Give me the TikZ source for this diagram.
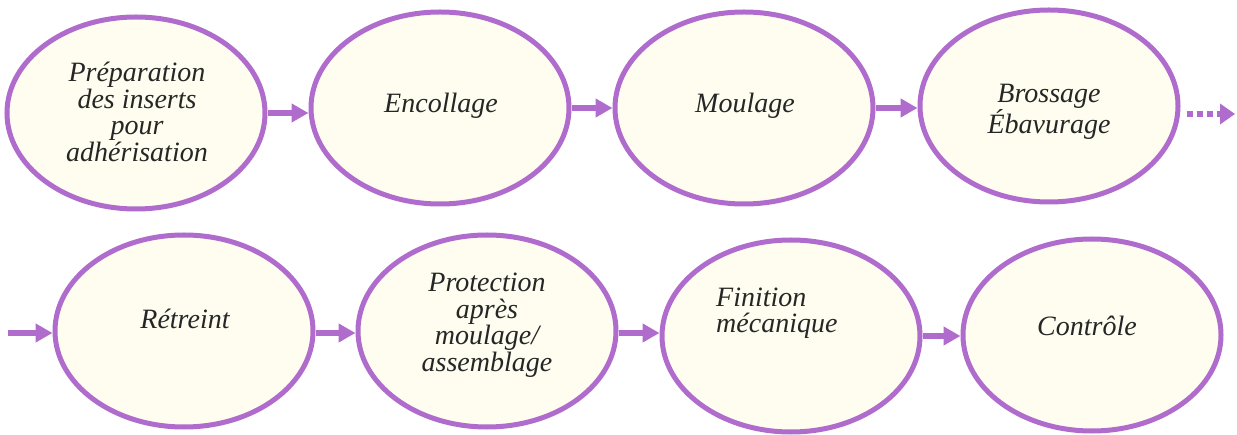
\documentclass[tikz,border=0pt]{standalone}
\usepackage{fontspec}
\setmainfont{Liberation Serif}
\newfontfamily\stepfont{Liberation Serif Italic}
\usetikzlibrary{arrows.meta,shapes.geometric,calc}
\definecolor{lilac}{RGB}{176,108,204}
\definecolor{cream}{RGB}{254,253,240}
\tikzset{
  stepoval/.style={ellipse, draw=lilac, fill=cream, line width=5pt,
    minimum width=258pt, minimum height=192pt, inner sep=0pt},
  steptext/.style={align=center, inner sep=0pt,
    font=\stepfont\fontsize{28}{26.5}\selectfont, text=black!85},
  flow/.style={draw=lilac, line width=6pt,
    -{Triangle[length=17pt,width=18pt]}},
  dotflow/.style={draw=lilac, line width=6pt, dash pattern=on 6pt off 4pt,
    -{Triangle[length=15pt,width=20pt]}}
}
\begin{document}
\begin{tikzpicture}[x=1pt,y=-1pt]
\useasboundingbox[fill=white] (0,0) rectangle (1237,435);
% top row
\node[stepoval] (e1) at (136,113) {};
\node[stepoval] (e2) at (440,108) {};
\node[stepoval] (e3) at (744,108) {};
\node[stepoval] (e4) at (1049,106) {};
% bottom row
\node[stepoval] (e5) at (184,331) {};
\node[stepoval] (e6) at (487,331) {};
\node[stepoval] (e7) at (791,336) {};
\node[stepoval] (e8) at (1092,335) {};
% texts
\node[steptext] (t1) at (137,112) {Préparation\\des inserts\\pour\\adhérisation};
\node[steptext] (t2) at (441,106) {Encollage};
\node[steptext] (t3) at (745,106) {Moulage};
\node[steptext] (t4) at (1049,112) {Brossage\\Ébavurage};
\node[steptext] (t5) at (185,319) {Rétreint};
\node[steptext] (t6) at (487,325) {Protection\\après\\moulage/\\assemblage};
\node[steptext, align=left, anchor=west] (t7) at (716,313) {Finition\\mécanique};
\node[steptext] (t8) at (1087,326) {Contrôle};
% connectors
\coordinate (dend) at (1235,114);
\coordinate (din) at (8,333);
\draw[flow] (e1.east) -- (e1.east -| e2.west);
\draw[flow] (e2.east) -- (e2.east -| e3.west);
\draw[flow] (e3.east) -- (e3.east -| e4.west);
\draw[dotflow] ($(e4.east |- dend)+(6,0)$) -- (dend);
\draw[flow] (din) -- (din -| e5.west);
\draw[flow] ($(e5.east)+(0,2)$) -- ($(e5.east -| e6.west)+(0,2)$);
\draw[flow] ($(e6.east)+(0,2)$) -- ($(e6.east -| e7.west)+(0,2)$);
\draw[flow] (e7.east) -- (e7.east -| e8.west);
\end{tikzpicture}
\end{document}
